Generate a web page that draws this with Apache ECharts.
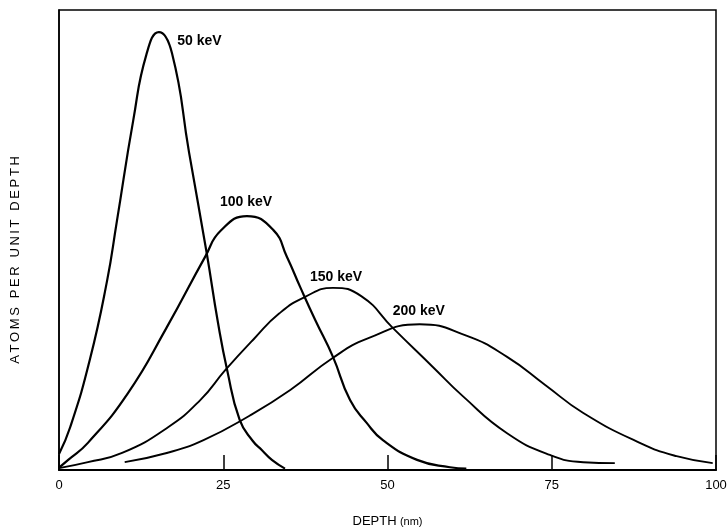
<!DOCTYPE html>
<html>
<head>
<meta charset="utf-8">
<style>
  html, body { margin: 0; padding: 0; background: #fff; }
  #chart { width: 728px; height: 527px; }
</style>
<script src="https://cdn.jsdelivr.net/npm/echarts@6/dist/echarts.min.js"></script>
</head>
<body>
<div id="chart"></div>
<script>
// Implanted-atom depth profiles for four beam energies: [depth (nm), relative atoms per unit depth]
const profile50 = [
  [0, 3.5], [1.7, 9.3], [4.7, 24], [7.3, 41], [8.8, 54], [11.3, 76], [13.3, 90.3],
  [15.2, 95.2], [17.2, 90.6], [19.8, 69], [22.5, 47], [24.2, 32], [25.6, 21.7],
  [27.5, 10.9], [29.5, 6.3], [30.9, 4.3], [32.4, 2.2], [34.4, 0.3]
];
const profile100 = [
  [0, 0.5], [1.4, 2.2], [4.4, 5.9], [10.5, 16.7], [16.4, 31], [22.3, 46.5], [24.6, 52],
  [28.6, 55.2], [32.6, 52.2], [34.7, 46.3], [36.7, 39.8], [39, 32.6], [41.7, 24.6],
  [44.3, 15.2], [46.8, 10.3], [49.3, 6.5], [54.5, 2.2], [59.5, 0.6], [62, 0.3]
];
const profile150 = [
  [0, 0.4], [4.4, 1.7], [9.6, 3.7], [16.6, 9.3], [21.5, 15.2], [25.3, 21.7], [29.8, 28.7],
  [33.5, 34], [37.4, 37.6], [41.7, 39.6], [46, 37.8], [50.8, 30.9], [56.9, 22.4],
  [61.5, 16], [68.2, 8], [74.7, 3.3], [79.8, 1.7], [84.6, 1.5]
];
const profile200 = [
  [10, 1.7], [16.4, 3.7], [22, 6.5], [29, 11.8], [35.2, 17.4], [41.6, 24.3], [47, 28.6],
  [54.9, 31.7], [62, 29.2], [68.2, 24.6], [74, 18.5], [79.8, 12.4], [88.4, 5.9],
  [94, 3], [99.5, 1.5]
];

const energyLabels = ['50 keV', '100 keV', '150 keV', '200 keV'];
// where each energy label starts, in axis units
const labelAnchorX = [18, 24.5, 38.2, 50.8];
const labelAnchorY = [93.3, 58.3, 41.9, 34.6];

const xTicks = [0, 25, 50, 75, 100];
const xName = 'DEPTH';
const xUnit = '(nm)';
const yName = 'ATOMS PER UNIT DEPTH';

const FONT = '"Liberation Sans", Arial, sans-serif';
const INK = '#000';

// the vertical title is set with open letter spacing (thin spaces between glyphs)
const spaced = s => s.split('').join('\u2009');

function curve(data, width) {
  return {
    type: 'line',
    data: data,
    smooth: 0.5,
    showSymbol: false,
    symbol: 'none',
    lineStyle: { color: INK, width: width },
    silent: true,
    z: 3
  };
}

const labelPoints = energyLabels.map((t, i) => ({
  value: [labelAnchorX[i], labelAnchorY[i]],
  name: t
}));

const chart = echarts.init(document.getElementById('chart'), null, { renderer: 'canvas' });
chart.setOption({
  animation: false,
  backgroundColor: '#fff',
  grid: {
    left: 59, right: 12, top: 10, bottom: 57,
    outerBoundsMode: 'none',
    containLabel: false,
    show: true, borderColor: INK, borderWidth: 1.5, backgroundColor: 'transparent'
  },
  xAxis: {
    type: 'value',
    min: xTicks[0], max: xTicks[xTicks.length - 1], interval: 25,
    name: '{a|' + xName + '} {b|' + xUnit + '}',
    nameLocation: 'middle',
    nameGap: 45,
    nameTextStyle: {
      rich: {
        a: { fontFamily: FONT, fontSize: 13, color: INK },
        b: { fontFamily: FONT, fontSize: 11, color: INK }
      }
    },
    axisLine: { show: true, lineStyle: { color: INK, width: 2 } },
    axisTick: { show: true, inside: true, length: 15, lineStyle: { color: INK, width: 1.5 } },
    axisLabel: { fontFamily: FONT, fontSize: 13, color: INK, margin: 9 },
    splitLine: { show: false }
  },
  yAxis: {
    type: 'value',
    min: 0, max: 100,
    name: spaced(yName),
    nameLocation: 'middle',
    nameGap: 37,
    nameRotate: 90,
    nameTextStyle: { fontFamily: FONT, fontSize: 13, color: INK, padding: [0, 40, 0, 0] },
    axisLine: { show: true, lineStyle: { color: INK, width: 1.5 } },
    axisTick: { show: false },
    axisLabel: { show: false },
    splitLine: { show: false }
  },
  series: [
    curve(profile50, 2.2),
    curve(profile100, 2.2),
    curve(profile150, 1.9),
    curve(profile200, 1.9),
    {
      type: 'scatter',
      data: labelPoints,
      symbolSize: 0,
      silent: true,
      itemStyle: { opacity: 1 },
      label: {
        show: true,
        position: 'right',
        distance: 0,
        formatter: p => p.name,
        fontFamily: FONT,
        fontSize: 14,
        fontWeight: 'bold',
        color: INK,
        opacity: 1
      },
      z: 4
    }
  ]
});
</script>
</body>
</html>
